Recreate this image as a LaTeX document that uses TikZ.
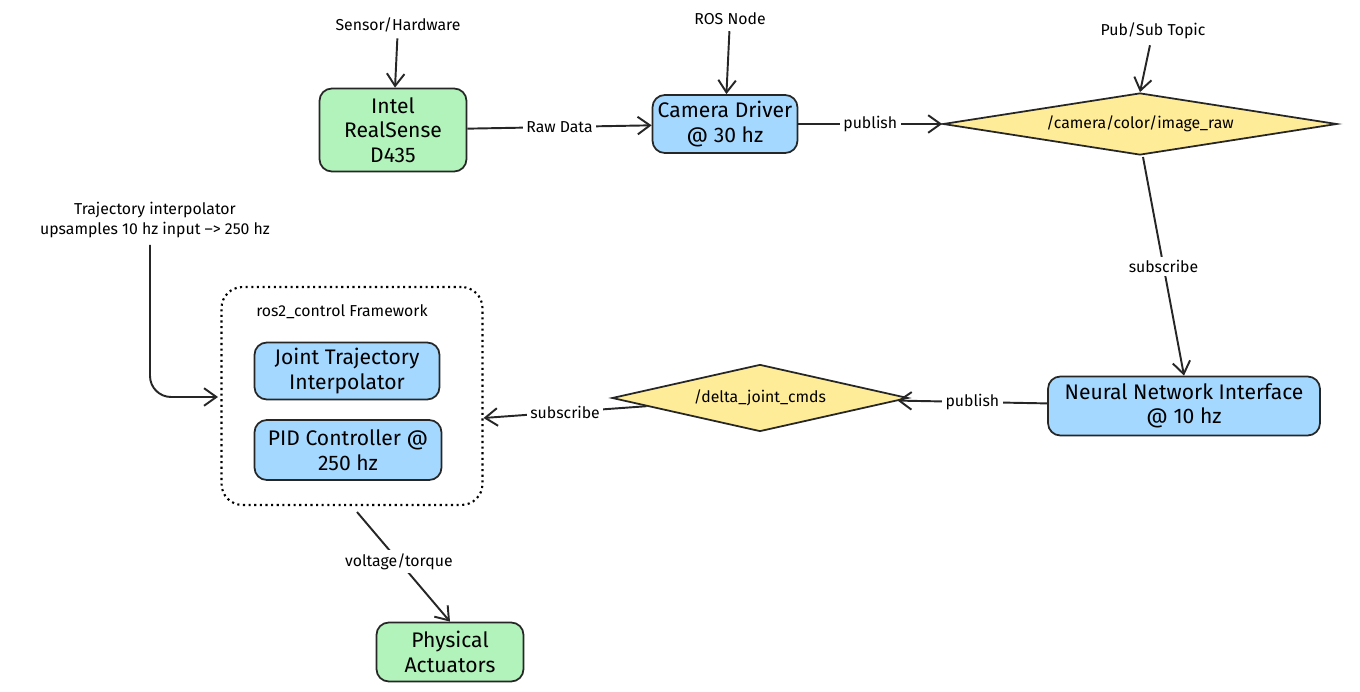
\documentclass[tikz,border=0pt]{standalone}
\usepackage{fontspec}
\setmainfont{Fira Sans}
\usetikzlibrary{shapes.geometric,arrows.meta,positioning}
\definecolor{hwgreen}{HTML}{B2F2BB}
\definecolor{nodeblue}{HTML}{A5D8FF}
\definecolor{topicyellow}{HTML}{FFEC99}
\tikzset{hw node/.style={rectangle,rounded corners=7pt,fill=hwgreen,draw=black!85,line width=1pt,align=center,font=\large,inner sep=0pt},
         ros node/.style={rectangle,rounded corners=7pt,fill=nodeblue,draw=black!85,line width=1pt,align=center,font=\large,inner sep=0pt},
         topic/.style={diamond,aspect=6.3,fill=topicyellow,draw=black!85,line width=1pt,font=\small,inner sep=1pt},
         note/.style={rectangle,draw=none,fill=none,align=center,font=\small},
         edge label/.style={rectangle,fill=white,draw=none,font=\small,inner sep=2pt},
         flow/.style={-{Straight Barb[length=7pt,width=10pt]},line width=1.1pt,draw=black!85}
}
\begin{document}
\begin{tikzpicture}[x=0.02cm,y=-0.02cm]
\useasboundingbox (0,0) rectangle (1360,692);
% sources
\node [hw node,minimum width=147\pgflinewidth*0+2.94cm,minimum height=1.66cm] (rs) at (393,130) {Intel\\RealSense\\D435};
\node [ros node,minimum width=2.9cm,minimum height=1.16cm] (cam) at (725,124) {Camera Driver\\@ 30 hz};
\node [topic,minimum width=7.88cm,minimum height=1.24cm] (img) at (1140,124) {/camera/color/image\_raw};
\node [ros node,minimum width=5.44cm,minimum height=1.18cm] (nn) at (1184,406) {Neural Network Interface\\@ 10 hz};
\node [topic,minimum width=5.92cm,minimum height=1.34cm] (cmds) at (760,398) {/delta\_joint\_cmds};
% ros2_control
\node [rectangle,rounded corners=12pt,draw,dotted,line width=1.2pt,minimum width=5.22cm,minimum height=4.36cm] (frame) at (352,396) {};
\node [note,anchor=north] at (342,298) {ros2\_control Framework};
\node [ros node,minimum width=3.7cm,minimum height=1.14cm] (jti) at (347,371) {Joint Trajectory\\Interpolator};
\node [ros node,minimum width=3.74cm,minimum height=1.2cm] (pid) at (348,450) {PID Controller @\\250 hz};
\node [hw node,minimum width=2.94cm,minimum height=1.18cm] (act) at (450,652) {Physical\\Actuators};
% notes
\node [note] (hwnote) at (398,25) {Sensor/Hardware};
\node [note] (rosnote) at (730,19) {ROS Node};
\node [note] (topnote) at (1153,31) {Pub/Sub Topic};
\node [note] (trajnote) at (155,220) {Trajectory interpolator\\upsamples 10 hz input --> 250 hz};
\coordinate (tin) at (218,397);
% connectors
\draw [flow] (hwnote) -- (rs);
\draw [flow] (rosnote) -- (cam);
\draw [flow] (topnote) -- (img.north);
\draw [flow] (rs) -- node [edge label] {Raw Data} (cam);
\draw [flow] (cam) -- node [edge label] {publish} (img);
\draw [flow] (1143,157) -- node [edge label] {subscribe} (nn.north);
\draw [flow] (nn) -- node [edge label] {publish} (cmds);
\draw [flow] (cmds) -- node [edge label] {subscribe} (frame.east |- 0,418);
\draw [flow,rounded corners=12pt] (150,245) -- (150,397) -- (tin);
\draw [flow] (357,512) -- node [edge label,pos=0.45] {voltage/torque} (act.north);
\end{tikzpicture}
\end{document}
